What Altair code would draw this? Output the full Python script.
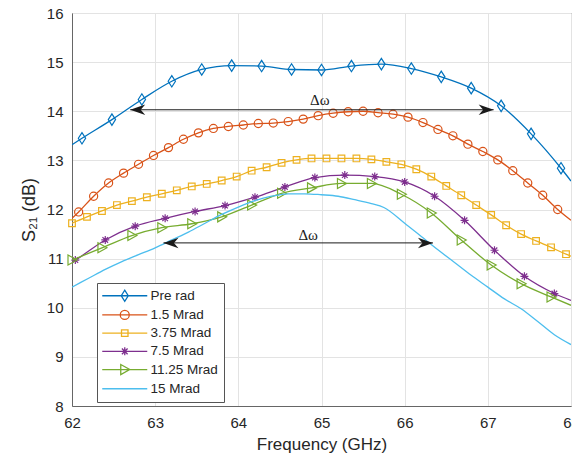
import altair as alt
import pandas as pd

SERIES = ["Pre rad", "1.5 Mrad", "3.75 Mrad", "7.5 Mrad", "11.25 Mrad", "15 Mrad"]
COLORS = ["#0072BD", "#D95319", "#EDB120", "#7E2F8E", "#77AC30", "#4DBEEE"]

# ---- Pre rad (diamonds) ----
pre_x = [62.12, 62.48, 62.84, 63.20, 63.56, 63.92, 64.28, 64.64, 65.00, 65.36,
         65.72, 66.08, 66.44, 66.80, 67.16, 67.52, 67.88]
pre_y = [13.45, 13.83, 14.24, 14.61, 14.85, 14.93, 14.92, 14.85, 14.84, 14.92,
         14.96, 14.87, 14.70, 14.47, 14.11, 13.54, 12.84]
pre_ends = [13.32, 12.58]

# ---- 1.5 Mrad (circles) ----
m15_x = [62.08, 62.26, 62.44, 62.62, 62.80, 62.98, 63.16, 63.34, 63.52, 63.70,
         63.88, 64.06, 64.24, 64.42, 64.60, 64.78, 64.96, 65.14, 65.32, 65.50,
         65.68, 65.86, 66.04, 66.22, 66.40, 66.58, 66.76, 66.94, 67.12, 67.30,
         67.48, 67.66, 67.84]
m15_y = [11.95, 12.27, 12.54, 12.74, 12.92, 13.10, 13.26, 13.43, 13.56, 13.65,
         13.69, 13.72, 13.75, 13.76, 13.79, 13.84, 13.91, 13.96, 13.99, 14.00,
         13.97, 13.94, 13.88, 13.77, 13.63, 13.50, 13.33, 13.18, 13.01, 12.79,
         12.54, 12.29, 12.00]
m15_ends = [11.82, 11.78]

# ---- 3.75 Mrad (squares) ----
m375_x = [62.00, 62.18, 62.36, 62.54, 62.72, 62.90, 63.08, 63.26, 63.44, 63.62,
          63.80, 63.98, 64.16, 64.34, 64.52, 64.70, 64.88, 65.06, 65.24, 65.42,
          65.60, 65.78, 65.96, 66.14, 66.32, 66.50, 66.68, 66.86, 67.04, 67.22,
          67.40, 67.58, 67.76, 67.94]
m375_y = [11.72, 11.85, 11.97, 12.09, 12.17, 12.25, 12.32, 12.39, 12.47, 12.52,
          12.59, 12.67, 12.79, 12.86, 12.95, 13.01, 13.04, 13.04, 13.04, 13.04,
          13.02, 12.97, 12.92, 12.82, 12.67, 12.48, 12.29, 12.09, 11.89, 11.68,
          11.50, 11.36, 11.23, 11.09]
m375_ends = [11.72, 11.05]

# ---- 7.5 Mrad (asterisks) ----
m75_x = [62.04, 62.40, 62.76, 63.12, 63.48, 63.84, 64.20, 64.56, 64.92, 65.28,
         65.64, 66.00, 66.36, 66.72, 67.08, 67.44, 67.80]
m75_y = [10.97, 11.38, 11.66, 11.82, 11.96, 12.08, 12.25, 12.46, 12.65, 12.70,
         12.67, 12.56, 12.27, 11.78, 11.17, 10.64, 10.29]
m75_ends = [10.93, 10.15]

# ---- 11.25 Mrad (right triangles) ----
m1125_x = [62.00, 62.36, 62.72, 63.08, 63.44, 63.80, 64.16, 64.52, 64.88, 65.24,
           65.60, 65.96, 66.32, 66.68, 67.04, 67.40, 67.76]
m1125_y = [10.97, 11.22, 11.47, 11.63, 11.71, 11.85, 12.09, 12.33, 12.44, 12.53,
           12.53, 12.31, 11.93, 11.38, 10.87, 10.49, 10.22]
m1125_ends = [10.97, 10.05]

# ---- 15 Mrad (line only) ----
m15r_x = [62.0, 62.2, 62.4, 62.6, 62.8, 63.0, 63.2, 63.4, 63.6, 63.8, 64.0,
          64.2, 64.4, 64.6, 64.8, 65.0, 65.2, 65.4, 65.6, 65.75, 66.0, 66.2,
          66.4, 66.6, 66.8, 67.0, 67.2, 67.4, 67.6, 67.8, 68.0]
m15r_y = [10.42, 10.60, 10.78, 10.94, 11.08, 11.22, 11.38, 11.54, 11.72, 11.90,
          12.05, 12.18, 12.27, 12.32, 12.32, 12.30, 12.27, 12.20, 12.12, 12.04,
          11.72, 11.45, 11.18, 10.92, 10.66, 10.42, 10.18, 9.98, 9.72, 9.45, 9.25]

# ---- annotations ----
arrow_x1 = [62.70, 63.10]
arrow_x2 = [67.07, 66.34]
arrow_y = [14.03, 11.32]
label_x = [64.98, 64.84]
label_y = [14.23, 11.48]
label_text = ["\u0394\u03c9", "\u0394\u03c9"]

X_TICKS = [62, 63, 64, 65, 66, 67, 68]
Y_TICKS = [8, 9, 10, 11, 12, 13, 14, 15, 16]

# ---------------- build tables ----------------
series_data = {
    "Pre rad": (pre_x, pre_y, pre_ends),
    "1.5 Mrad": (m15_x, m15_y, m15_ends),
    "3.75 Mrad": (m375_x, m375_y, m375_ends),
    "7.5 Mrad": (m75_x, m75_y, m75_ends),
    "11.25 Mrad": (m1125_x, m1125_y, m1125_ends),
    "15 Mrad": (m15r_x, m15r_y, None),
}

MARKER_SHAPES = {
    "Pre rad": ("M-0.64,0L0,-1L0.64,0L0,1Z", 130),
    "1.5 Mrad": ("circle", 66),
    "3.75 Mrad": ("square", 44),
    "7.5 Mrad": ("M-1,0L1,0M0,-1L0,1M-0.7,-0.7L0.7,0.7M-0.7,0.7L0.7,-0.7", 64),
    "11.25 Mrad": ("M-0.8,-1L1,0L-0.8,1Z", 100),
}

FONT = "Liberation Sans"
TXT = "#262626"

xscale = alt.Scale(domain=[62, 68], nice=False, zero=False)
yscale = alt.Scale(domain=[8, 16], nice=False, zero=False)

X = alt.X("x:Q", scale=xscale,
          axis=alt.Axis(values=X_TICKS, title="Frequency (GHz)", format="d"))
Y = alt.Y("y:Q", scale=yscale,
          axis=alt.Axis(values=Y_TICKS, title="S\u2082\u2081 (dB)", format="d",
                        titleFontSize=18))
Xn = alt.X("x:Q", scale=xscale)
Yn = alt.Y("y:Q", scale=yscale)

layers = []
for i, (s, (xs, ys, ends)) in enumerate(series_data.items()):
    col = COLORS[i]
    pts = list(zip(xs, ys))
    if ends is not None:
        if xs[0] > 62.0:
            pts = [(62.0, ends[0])] + pts
        if xs[-1] < 68.0:
            pts = pts + [(68.0, ends[1])]
    ldf = pd.DataFrame({"x": [p[0] for p in pts], "y": [p[1] for p in pts]})
    enc = dict(x=X, y=Y) if i == 0 else dict(x=Xn, y=Yn)
    layers.append(
        alt.Chart(ldf).mark_line(
            strokeWidth=1.3, interpolate="monotone", clip=True, color=col
        ).encode(order=alt.Order("x:Q"), **enc)
    )
    if s in MARKER_SHAPES:
        shape, size = MARKER_SHAPES[s]
        mdf = pd.DataFrame({"x": xs, "y": ys})
        layers.append(
            alt.Chart(mdf).mark_point(
                shape=shape, size=size, filled=False, strokeWidth=1.2,
                opacity=1, color=col
            ).encode(x=Xn, y=Yn)
        )

arrows_df = pd.DataFrame({"x1": arrow_x1, "x2": arrow_x2, "y": arrow_y})
labels_df = pd.DataFrame({"x": label_x, "y": label_y, "t": label_text})
legend_df = pd.DataFrame({"series": SERIES})

layers.append(
    alt.Chart(arrows_df).mark_rule(color="#1a1a1a", strokeWidth=1).encode(
        x=alt.X("x1:Q", scale=xscale), x2="x2:Q", y=alt.Y("y:Q", scale=yscale))
)
layers.append(
    alt.Chart(arrows_df).mark_point(
        shape="M0,0L2,-0.7L1.4,0L2,0.7Z", size=225, filled=True,
        color="#1a1a1a", opacity=1
    ).encode(x=alt.X("x1:Q", scale=xscale), y=alt.Y("y:Q", scale=yscale))
)
layers.append(
    alt.Chart(arrows_df).mark_point(
        shape="M0,0L-2,-0.7L-1.4,0L-2,0.7Z", size=225, filled=True,
        color="#1a1a1a", opacity=1
    ).encode(x=alt.X("x2:Q", scale=xscale), y=alt.Y("y:Q", scale=yscale))
)
layers.append(
    alt.Chart(labels_df).mark_text(
        font="Liberation Serif", fontSize=15, color="#1a1a1a", baseline="middle"
    ).encode(x=Xn, y=Yn, text="t:N")
)

LEGEND_PATHS = [
    "M-4.5,0L4.5,0M-0.7,0L0,-1.1L0.7,0L0,1.1Z",
    "M-4.5,0L4.5,0M0.9,0A0.9,0.9,0,1,1,-0.9,0A0.9,0.9,0,1,1,0.9,0Z",
    "M-4.5,0L4.5,0M-0.65,-0.65L0.65,-0.65L0.65,0.65L-0.65,0.65Z",
    "M-4.5,0L4.5,0M-0.8,0L0.8,0M0,-0.8L0,0.8M-0.57,-0.57L0.57,0.57M-0.57,0.57L0.57,-0.57",
    "M-4.5,0L4.5,0M-0.8,-1L1,0L-0.8,1Z",
    "M-4.5,0L4.5,0",
]

leg = alt.Legend(
    title=None, orient="none", legendX=25, legendY=270,
    symbolSize=100, symbolStrokeWidth=1.3, symbolOpacity=1,
    symbolOffset=15, labelOffset=19, rowPadding=3.2, padding=6,
    labelFont=FONT, labelFontSize=13.5, labelColor=TXT,
    strokeColor="#555555", fillColor="white", cornerRadius=0,
)

layers.append(
    alt.Chart(legend_df).mark_point(opacity=0, filled=False).encode(
        color=alt.Color("series:N", scale=alt.Scale(domain=SERIES, range=COLORS),
                        legend=leg, sort=SERIES),
        shape=alt.Shape("series:N", scale=alt.Scale(domain=SERIES, range=LEGEND_PATHS),
                        legend=leg, sort=SERIES),
    )
)

chart = alt.layer(*layers).properties(
    width=499, height=393,
    autosize=alt.AutoSizeParams(type="none"),
    padding={"left": 72, "top": 13, "right": 1, "bottom": 48},
).configure_view(
    stroke="#666666", strokeWidth=1
).configure_axis(
    grid=True, gridColor="#e3e3e3", gridWidth=1,
    ticks=False, domainColor="#666666", domainWidth=1,
    labelFont=FONT, labelFontSize=15, labelColor=TXT, labelPadding=9,
    titleFont=FONT, titleFontSize=17, titleColor=TXT, titleFontWeight="normal",
).configure_axisX(
    titlePadding=6, labelFlush=False
).configure_axisY(
    titlePadding=8, labelFlush=False
)

chart.save("out.html", embed_options={"renderer": "svg", "actions": False})
